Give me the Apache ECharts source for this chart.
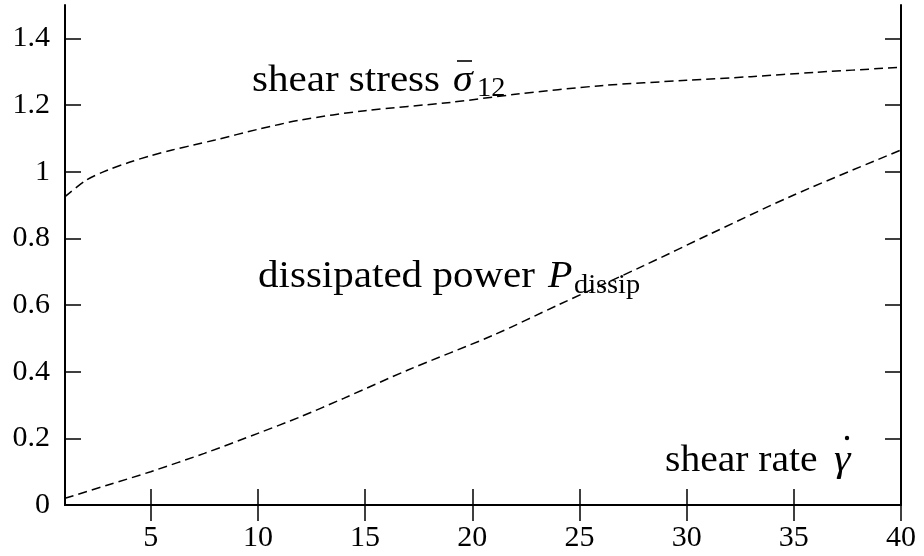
<!DOCTYPE html>
<html>
<head>
<meta charset="utf-8">
<script src="https://cdn.jsdelivr.net/npm/echarts@6/dist/echarts.min.js"></script>
<style>
  html, body { margin: 0; padding: 0; background: #fff; }
  #chart { width: 924px; height: 556px; }
</style>
</head>
<body>
<div id="chart"></div>
<script>
// Shear stress curve (upper)
const stressX = [1, 2, 3, 4, 5, 6, 7, 8, 10, 12, 15, 19, 22, 26, 30, 33, 36, 40];
const stressY = [0.925, 0.975, 1.005, 1.028, 1.048, 1.065, 1.08, 1.095, 1.127, 1.155, 1.183, 1.208, 1.232, 1.258, 1.274, 1.285, 1.298, 1.313];
// Dissipated power curve (lower)
const powerX = [1, 3, 5, 7.5, 10, 12, 14, 17, 21, 24, 28, 31, 35, 40];
const powerY = [0.02, 0.06, 0.10, 0.155, 0.215, 0.265, 0.32, 0.405, 0.51, 0.6, 0.718, 0.81, 0.93, 1.065];
// Tick values
const xTicks = [5, 10, 15, 20, 25, 30, 35, 40];
const yTicks = [0, 0.2, 0.4, 0.6, 0.8, 1, 1.2, 1.4];

const FONT = '"Liberation Serif", "DejaVu Serif", serif';

const chart = echarts.init(document.getElementById('chart'), null, { renderer: 'canvas' });

function pairs(xs, ys) { return xs.map((x, i) => [x, ys[i]]); }

const axisLineStyle = { show: true, lineStyle: { color: '#000', width: 2 } };
const tickStyle = { show: true, inside: true, length: 16, lineStyle: { color: '#000', width: 1.5 } };

function txt(text, x, y, size, italic, sx) {
  return {
    type: 'text', x: x, y: y, scaleX: sx || 1.08, z: 10,
    style: {
      text: text, x: 0, y: 0, align: 'left', verticalAlign: 'middle',
      fontSize: size, fontFamily: FONT, fontStyle: italic ? 'italic' : 'normal', fill: '#000'
    }
  };
}

const option = {
  backgroundColor: '#fff',
  animation: false,
  grid: { left: 65, right: 23, top: 5, bottom: 51, containLabel: false },
  xAxis: [
    {
      type: 'value', min: 1, max: 40, position: 'bottom',
      axisLine: axisLineStyle,
      axisTick: Object.assign({}, tickStyle, { customValues: xTicks }),
      axisLabel: { customValues: xTicks, margin: 18, color: '#000', fontSize: 30, fontFamily: FONT },
      splitLine: { show: false }
    },
    {
      type: 'value', min: 1, max: 40, position: 'top',
      axisLine: axisLineStyle,
      axisTick: Object.assign({}, tickStyle, { customValues: xTicks }),
      axisLabel: { show: false },
      splitLine: { show: false }
    }
  ],
  yAxis: [
    {
      type: 'value', min: 0, max: 1.5, position: 'left',
      axisLine: axisLineStyle,
      axisTick: Object.assign({}, tickStyle, { customValues: yTicks }),
      axisLabel: { customValues: yTicks, margin: 15, color: '#000', fontSize: 30, fontFamily: FONT },
      splitLine: { show: false }
    },
    {
      type: 'value', min: 0, max: 1.5, position: 'right',
      axisLine: axisLineStyle,
      axisTick: Object.assign({}, tickStyle, { customValues: yTicks }),
      axisLabel: { show: false },
      splitLine: { show: false }
    }
  ],
  series: [
    {
      name: 'shear stress', type: 'line', xAxisIndex: 0, yAxisIndex: 0,
      data: pairs(stressX, stressY), smooth: 0.3, showSymbol: false, clip: false,
      lineStyle: { color: '#000', width: 1.5, type: [9, 5] }
    },
    {
      name: 'dissipated power', type: 'line', xAxisIndex: 0, yAxisIndex: 0,
      data: pairs(powerX, powerY), smooth: 0.3, showSymbol: false, clip: false,
      lineStyle: { color: '#000', width: 1.5, type: [9, 5] }
    }
  ],
  graphic: [
    // shear stress sigma-bar_12
    txt('shear stress', 252, 81, 38, false),
    txt('σ', 453, 81, 38, true, 1.05),
    { type: 'line', z: 10, shape: { x1: 457, y1: 61, x2: 472, y2: 61 }, style: { stroke: '#000', lineWidth: 1.6 } },
    txt('12', 477, 89, 27, false, 1.05),
    // dissipated power P_dissip
    txt('dissipated power', 258, 277, 38, false),
    txt('P', 548, 277, 38, true, 1.05),
    txt('dissip', 574, 286, 27, false, 1.05),
    // shear rate gamma-dot
    txt('shear rate', 665, 461, 38, false, 1.04),
    txt('γ', 834, 461, 38, true, 1.1),
    { type: 'circle', z: 10, shape: { cx: 847, cy: 438, r: 2.2 }, style: { fill: '#000' } }
  ]
};

chart.setOption(option);
</script>
</body>
</html>
